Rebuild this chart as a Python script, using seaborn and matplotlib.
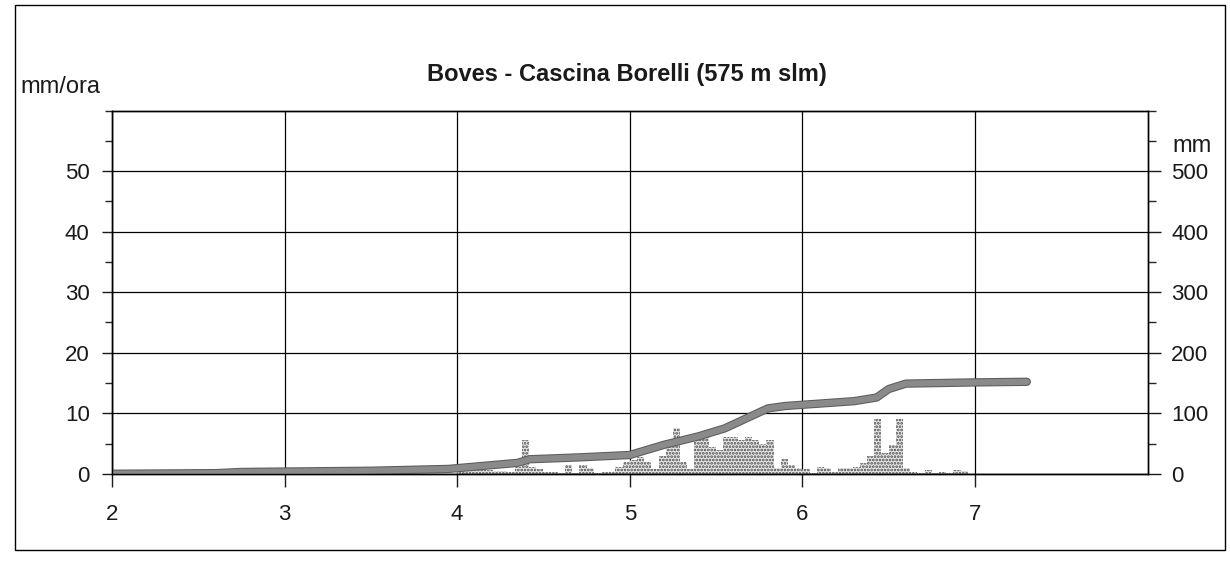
import matplotlib.patheffects as pe
import matplotlib.pyplot as plt
import numpy as np
import pandas as pd
import seaborn as sns
from matplotlib.patches import Rectangle
from matplotlib.ticker import MultipleLocator

# Hourly rainfall (mm/ora), one list of 24 hours per day
days = [2, 4, 5, 6]
rain_day2 = [0, 0, 0, 0, 0, 0, 0, 0, 0, 0, 0, 0, 0, 0, 0.8, 0, 0, 0.8, 0, 0, 0, 0, 0, 0]
rain_day4 = [1.5, 0.4, 1.3, 0.6, 0.6, 0.5, 0.4, 0.3, 1.2, 5.5, 1.2, 0.8,
             0.3, 0.3, 0.2, 1.5, 0.2, 1.5, 1.0, 0.2, 0.3, 0.3, 1.2, 2.0]
rain_day5 = [2.2, 2.8, 2.0, 0.8, 3.0, 5.5, 7.5, 2.0, 0.8, 5.5, 6.0, 4.5,
             4.0, 6.0, 6.0, 5.5, 6.0, 5.5, 5.0, 5.5, 1.0, 2.5, 1.5, 1.0]
rain_day6 = [0.8, 0.2, 1.2, 1.0, 0.3, 1.0, 1.0, 1.2, 1.7, 3.0, 9.0, 3.5,
             4.8, 9.0, 1.0, 0.3, 0.2, 0.7, 0.2, 0.3, 0.2, 0.7, 0.4, 0]
hourly = [rain_day2, rain_day4, rain_day5, rain_day6]

# Cumulative rainfall (mm), right axis
cum_time = [2.0, 2.6, 2.75, 3.5, 3.95, 4.35, 4.42, 4.7, 5.0, 5.2, 5.4, 5.55,
            5.8, 5.9, 6.0, 6.3, 6.43, 6.5, 6.6, 7.0, 7.3]
cum_mm = [0, 1, 3, 5, 8, 18, 24, 27, 31, 48, 62, 75,
          108, 112, 114, 120, 126, 140, 149, 151, 152]

title = "Boves - Cascina Borelli (575 m slm)"
x_ticks = [2, 3, 4, 5, 6, 7]
left_ticks = [0, 10, 20, 30, 40, 50]
right_ticks = [0, 100, 200, 300, 400, 500]

rows = []
for day, values in zip(days, hourly):
    for h, v in enumerate(values):
        rows.append({"time": day + (h + 0.5) / 24, "rain": v})
bars = pd.DataFrame(rows)

sns.set_style("ticks")
plt.rcParams["font.family"] = ["Liberation Sans", "DejaVu Sans"]
plt.rcParams["hatch.linewidth"] = 1.3
text_color = "#1a1a1a"

fig = plt.figure(figsize=(12.3, 5.62), dpi=100)
ax = fig.add_axes([0.091, 0.157, 0.842, 0.646])

# dotted hourly bars
sns.barplot(data=bars, x="time", y="rain", native_scale=True, width=1,
            errorbar=None, color="#e8e8e8", saturation=1, edgecolor="#4a4a4a",
            linewidth=0, hatch=".....", ax=ax)
ax.set_xlim(2, 8)
ax.set_ylim(0, 60)
ax.set_xticks(x_ticks)
ax.set_xticklabels([str(t) for t in x_ticks])
ax.set_yticks(left_ticks)
ax.yaxis.set_minor_locator(MultipleLocator(5))
ax.set_xlabel("")
ax.set_ylabel("")
ax.grid(True, color="black", linewidth=0.9)
ax.set_axisbelow(True)
ax.tick_params(axis="y", which="major", length=7, width=1, labelsize=16,
               pad=9, colors=text_color)
ax.tick_params(axis="y", which="minor", length=5, width=1)
ax.tick_params(axis="x", length=9, width=1, labelsize=16, pad=13,
               colors=text_color)

# cumulative line on the right axis
ax2 = ax.twinx()
sns.lineplot(x=cum_time, y=cum_mm, ax=ax2, color="#8a8a8a", linewidth=4.5,
             solid_capstyle="round",
             path_effects=[pe.Stroke(linewidth=6, foreground="#5c5c5c"), pe.Normal()])
ax2.set_ylim(0, 600)
ax2.set_yticks(right_ticks)
ax2.yaxis.set_minor_locator(MultipleLocator(50))
ax2.set_ylabel("")
ax2.tick_params(axis="y", which="major", length=9, width=1, labelsize=16,
                pad=8, colors=text_color)
ax2.tick_params(axis="y", which="minor", length=6, width=1)

for a in (ax, ax2):
    for spine in a.spines.values():
        spine.set_visible(True)
        spine.set_color("black")
        spine.set_linewidth(1)

fig.text(0.51, 0.867, title, ha="center", va="center", fontsize=17,
         fontweight="bold", color=text_color)
fig.text(0.0163, 0.835, "mm/ora", ha="left", va="baseline", fontsize=17,
         color=text_color)
fig.text(0.953, 0.7295, "mm", ha="left", va="baseline", fontsize=17,
         color=text_color)

fig.add_artist(Rectangle((0.012, 0.021), 0.984, 0.97, transform=fig.transFigure,
                         fill=False, edgecolor="black", linewidth=1))

fig.savefig("out.png", dpi=100)
plt.close(fig)
